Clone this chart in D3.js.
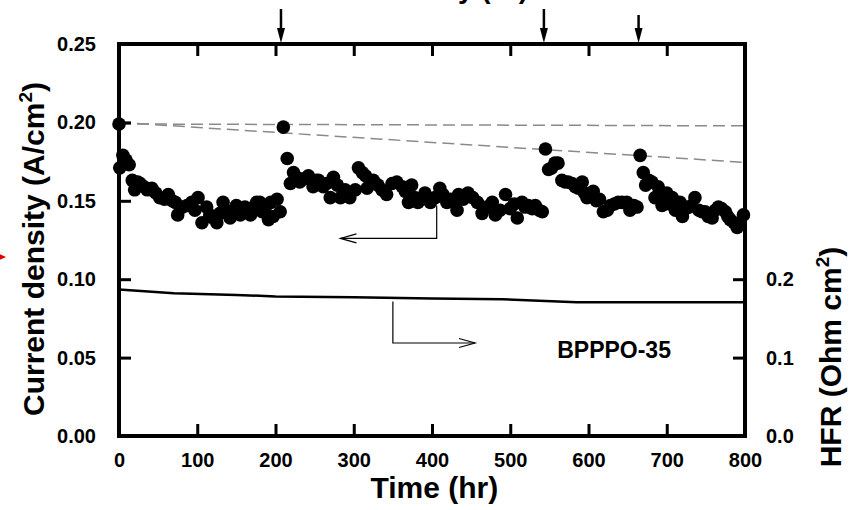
<!DOCTYPE html>
<html>
<head>
<meta charset="utf-8">
<script src="https://cdn.jsdelivr.net/npm/d3@7"></script>
<style>
  body { margin: 0; background: #fff; }
  svg { display: block; font-family: Arial, "Liberation Sans", sans-serif; font-weight: bold; }
</style>
</head>
<body>
<svg id="chart"></svg>
<script>
// current density (A/cm2) vs time (hr), one array per run segment
const seg1 = [[0,0.199],[1,0.171],[5,0.179],[9,0.176],[13,0.173],[17,0.163],[20,0.157],[24,0.162],[27,0.161],[32,0.159],[36,0.157],[42,0.158],[47,0.155],[52,0.152],[58,0.151],[63,0.154],[68,0.150],[72,0.149],[75,0.141],[81,0.146],[87,0.147],[93,0.149],[97,0.144],[101,0.152],[106,0.136],[112,0.146],[116,0.141],[120,0.139],[125,0.136],[129,0.142],[133,0.149],[138,0.143],[142,0.139],[146,0.144],[150,0.147],[155,0.141],[161,0.146],[165,0.143],[168,0.141],[172,0.146],[176,0.149],[180,0.149],[183,0.143],[187,0.146],[191,0.138],[194,0.149],[197,0.140],[202,0.151],[206,0.143]];
const seg2 = [[210,0.197],[215,0.177],[219,0.161],[223,0.168],[227,0.165],[231,0.162],[236,0.164],[242,0.166],[248,0.159],[252,0.163],[255,0.163],[261,0.159],[265,0.161],[270,0.152],[274,0.165],[279,0.160],[283,0.152],[289,0.157],[295,0.152],[302,0.157],[306,0.171],[311,0.168],[315,0.166],[317,0.158],[321,0.162],[325,0.163],[331,0.160],[336,0.157],[342,0.154],[349,0.161],[355,0.162],[362,0.159],[366,0.156],[370,0.149],[374,0.160],[378,0.152],[382,0.149],[387,0.151],[391,0.155],[395,0.152],[398,0.149],[404,0.152],[410,0.158],[414,0.154],[419,0.149],[424,0.151],[428,0.149],[432,0.144],[434,0.154],[440,0.151],[446,0.155],[452,0.152],[458,0.149],[464,0.142],[470,0.146],[477,0.149],[481,0.141],[487,0.144],[494,0.154],[500,0.145],[505,0.148],[509,0.139],[515,0.149],[519,0.146],[523,0.147],[528,0.145],[532,0.147],[537,0.144],[541,0.143]];
const seg3 = [[545,0.183],[549,0.170],[553,0.171],[557,0.174],[561,0.174],[566,0.163],[570,0.162],[574,0.162],[579,0.161],[583,0.159],[587,0.158],[592,0.162],[595,0.155],[598,0.152],[602,0.153],[606,0.156],[610,0.150],[614,0.151],[619,0.143],[624,0.144],[628,0.147],[633,0.148],[638,0.149],[643,0.149],[649,0.149],[653,0.144],[658,0.147],[662,0.146]];
const seg4 = [[666,0.179],[670,0.168],[673,0.160],[677,0.163],[681,0.162],[685,0.152],[689,0.159],[692,0.155],[694,0.147],[697,0.150],[700,0.155],[704,0.148],[707,0.152],[711,0.144],[714,0.147],[717,0.149],[720,0.140],[724,0.145],[728,0.146],[732,0.147],[736,0.152],[741,0.144],[745,0.143],[749,0.143],[753,0.140],[758,0.139],[762,0.144],[766,0.146],[770,0.145],[775,0.143],[778,0.140],[781,0.138],[786,0.136],[790,0.133],[794,0.136],[798,0.141]];

// HFR (Ohm cm2) on the right axis
const hfr = [[0,0.187],[70,0.182],[150,0.180],[200,0.178],[300,0.177],[400,0.1755],[490,0.1745],[585,0.1705],[800,0.1705]];

// grey dashed guide lines (start / end current density)
const guides = [[0.199, 0.1978], [0.200, 0.1745]];

// restart times marked by arrows on the top axis
const restarts = [207, 543, 664];

const xTicks = [0, 100, 200, 300, 400, 500, 600, 700, 800];
const yTicks = [0, 0.05, 0.10, 0.15, 0.20, 0.25];
const hfrTicks = [0, 0.1, 0.2];

const W = 855, H = 510;
const margin = {top: 44, right: 110, bottom: 74, left: 119};

const svg = d3.select('#chart').attr('width', W).attr('height', H);

const x = d3.scaleLinear().domain([0, 800]).range([margin.left, W - margin.right]);
const y = d3.scaleLinear().domain([0, 0.25]).range([H - margin.bottom, margin.top]);
const y2 = d3.scaleLinear().domain([0, 0.5]).range([H - margin.bottom, margin.top]);

// dashed guides
svg.selectAll('.guide')
    .data(guides)
    .enter().append('line')
    .attr('x1', x(0)).attr('x2', x(800))
    .attr('y1', d => y(d[0])).attr('y2', d => y(d[1]))
    .attr('stroke', '#8a8a8a').attr('stroke-width', 1.5)
    .attr('stroke-dasharray', '12,6');

// HFR line
svg.append('path')
    .datum(hfr)
    .attr('fill', 'none')
    .attr('stroke', '#000')
    .attr('stroke-width', 2.5)
    .attr('d', d3.line().x(d => x(d[0])).y(d => y2(d[1])));

// current density points
const points = [].concat(seg1, seg2, seg3, seg4);
svg.selectAll('.dot')
    .data(points)
    .enter().append('circle')
    .attr('cx', d => x(d[0]))
    .attr('cy', d => y(d[1]))
    .attr('r', 6.8)
    .attr('fill', '#000');

// axes: ticks point inward, frame is thick
const tickLen = 12;
const bottomAxis = d3.axisBottom(x).tickValues(xTicks).tickSize(-tickLen).tickPadding(tickLen + 5).tickFormat(d3.format('d'));
const topAxis = d3.axisTop(x).tickValues(xTicks).tickSize(-tickLen).tickFormat('');
const leftAxis = d3.axisLeft(y).tickValues(yTicks).tickSize(-tickLen).tickPadding(tickLen + 11).tickFormat(d3.format('.2f'));
const rightAxis = d3.axisRight(y2).tickValues(hfrTicks).tickSize(-tickLen).tickPadding(tickLen + 9).tickFormat(d3.format('.1f'));

function styleAxis(g) {
    g.select('.domain').remove();
    g.selectAll('.tick line').attr('stroke', '#000').attr('stroke-width', 3);
    g.selectAll('.tick text').attr('fill', '#000').style('font-size', '20px').style('font-weight', 'bold');
}

svg.append('g').attr('transform', `translate(0,${y(0)})`).call(bottomAxis).call(styleAxis);
svg.append('g').attr('transform', `translate(0,${y(0.25)})`).call(topAxis).call(styleAxis);
svg.append('g').attr('transform', `translate(${x(0)},0)`).call(leftAxis).call(styleAxis);
svg.append('g').attr('transform', `translate(${x(800)},0)`).call(rightAxis).call(styleAxis);

// frame
svg.append('rect')
    .attr('x', x(0)).attr('y', y(0.25))
    .attr('width', x(800) - x(0)).attr('height', y(0) - y(0.25))
    .attr('fill', 'none').attr('stroke', '#000').attr('stroke-width', 4);

// restart arrows above the frame
const arrows = svg.append('g');
restarts.forEach((t, i) => {
    const top = i === 2 ? 15 : 9;
    arrows.append('line')
        .attr('x1', x(t)).attr('x2', x(t))
        .attr('y1', top).attr('y2', y(0.25) - 8)
        .attr('stroke', '#000').attr('stroke-width', 2.5);
    arrows.append('path')
        .attr('d', `M${x(t) - 4},${y(0.25) - 16} L${x(t)},${y(0.25) - 1} L${x(t) + 4},${y(0.25) - 16} Z`)
        .attr('fill', '#000');
});

// pointer arrows: dots -> left axis, line -> right axis
const leftPtr = [[406, 0.147], [406, 0.126], [283, 0.126]];
const rightPtr = [[350, 0.0858], [350, 0.0593], [455, 0.0593]];
const ptrLine = d3.line().x(d => x(d[0])).y(d => y(d[1]));
[leftPtr, rightPtr].forEach(p => {
    svg.append('path').attr('d', ptrLine(p))
        .attr('fill', 'none').attr('stroke', '#000').attr('stroke-width', 1.2);
    const tip = p[p.length - 1];
    const dir = Math.sign(tip[0] - p[p.length - 2][0]);
    const tx = x(tip[0]), ty = y(tip[1]);
    svg.append('path')
        .attr('d', `M${tx - dir * 16},${ty - 4.5} L${tx},${ty} L${tx - dir * 16},${ty + 4.5}`)
        .attr('fill', 'none').attr('stroke', '#000').attr('stroke-width', 1.2);
});

svg.append('text')
    .attr('x', x(560)).attr('y', y(0.0495))
    .style('font-size', '23px')
    .text('BPPPO-35');

// axis titles
svg.append('text')
    .attr('x', x(403)).attr('y', 498)
    .attr('text-anchor', 'middle')
    .style('font-size', '30px')
    .text('Time (hr)');

svg.append('text')
    .attr('transform', 'translate(44,249) rotate(-90)')
    .attr('text-anchor', 'middle')
    .style('font-size', '30px')
    .html('Current density (A/cm<tspan dy="-12" font-size="19">2</tspan><tspan dy="12">)</tspan>');

svg.append('text')
    .attr('transform', 'translate(841,357) rotate(-90)')
    .attr('text-anchor', 'middle')
    .style('font-size', '30px')
    .html('HFR (Ohm cm<tspan dy="-12" font-size="19">2</tspan><tspan dy="12">)</tspan>');

// top title, clipped by the page edge
svg.append('text')
    .attr('x', 528).attr('y', -2)
    .attr('text-anchor', 'end')
    .style('font-size', '28px')
    .text('Recovery (hr)');

// red marker at the left edge
svg.append('path')
    .attr('d', 'M-7,251 L6,257 L-7,263 Z')
    .attr('fill', '#e00000');
</script>
</body>
</html>
